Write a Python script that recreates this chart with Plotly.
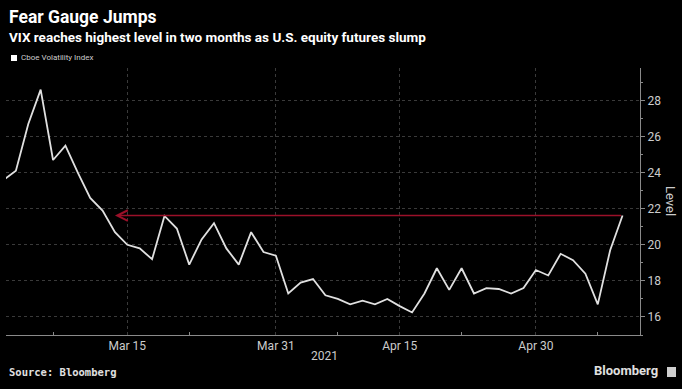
import plotly.graph_objects as go

# ---- data (Cboe Volatility Index, trading days) ----
dates = [
    "Mar 1", "Mar 2", "Mar 3", "Mar 4", "Mar 5", "Mar 8", "Mar 9", "Mar 10", "Mar 11", "Mar 12",
    "Mar 15", "Mar 16", "Mar 17", "Mar 18", "Mar 19", "Mar 22", "Mar 23", "Mar 24", "Mar 25", "Mar 26",
    "Mar 29", "Mar 30", "Mar 31", "Apr 1", "Apr 5", "Apr 6", "Apr 7", "Apr 8", "Apr 9", "Apr 12",
    "Apr 13", "Apr 14", "Apr 15", "Apr 16", "Apr 19", "Apr 20", "Apr 21", "Apr 22", "Apr 23", "Apr 26",
    "Apr 27", "Apr 28", "Apr 29", "Apr 30", "May 3", "May 4", "May 5", "May 6", "May 7", "May 10",
    "May 11",
]
vix = [
    23.6, 24.1, 26.7, 28.6, 24.7, 25.5, 24.0, 22.6, 21.9, 20.7,
    20.0, 19.8, 19.2, 21.6, 20.9, 18.9, 20.3, 21.2, 19.8, 18.9,
    20.7, 19.6, 19.4, 17.3, 17.9, 18.1, 17.2, 17.0, 16.7, 16.9,
    16.7, 17.0, 16.6, 16.25, 17.3, 18.7, 17.5, 18.7, 17.3, 17.6,
    17.55, 17.3, 17.6, 18.6, 18.3, 19.5, 19.15, 18.4, 16.7, 19.7,
    21.62,
]
major_tick_dates = ["Mar 15", "Mar 31", "Apr 15", "Apr 30"]
minor_tick_dates = ["Mar 5", "Mar 22", "Apr 8", "Apr 22", "May 7"]
arrow_target_date = "Mar 12"
y_major_ticks = [16, 18, 20, 22, 24, 26, 28]
y_minor_ticks = [15, 17, 19, 21, 23, 25, 27, 29]
series_name = "Cboe Volatility Index"
title = "Fear Gauge Jumps"
subtitle = "VIX reaches highest level in two months as U.S. equity futures slump"
source = "Source: Bloomberg"
year_label = "2021"

x = list(range(len(dates)))
idx = {d: i for i, d in enumerate(dates)}

W, H = 682, 389
L, R, T, B = 6, 42, 68, 54
PH = H - T - B


def py(px):
    return (H - B - px) / PH


def pxx(px):
    return (px - L) / (W - L - R)


fig = go.Figure()
fig.add_trace(go.Scatter(
    x=x, y=vix, mode="lines", name=series_name,
    line=dict(color="#e0e0e0", width=1.8), showlegend=False,
))

grid = "#3a3a3a"
fig.update_layout(
    width=W, height=H, autosize=False,
    margin=dict(l=L, r=R, t=T, b=B, pad=0),
    paper_bgcolor="#000000", plot_bgcolor="#000000",
    font=dict(family="Roboto, Open Sans, sans-serif", color="#cccccc", size=12),
    xaxis=dict(
        range=[0.2, 51.41], showline=True, linecolor="#8a8a8a", linewidth=1,
        tickvals=[idx[d] for d in major_tick_dates], ticktext=major_tick_dates,
        ticks="", showgrid=True, gridcolor=grid, griddash="dot", gridwidth=1,
        zeroline=False, tickfont=dict(size=12, color="#cccccc"),
        minor=dict(tickvals=[idx[d] for d in minor_tick_dates], ticks="inside",
                   ticklen=3, tickcolor="#8a8a8a", showgrid=False),
        fixedrange=True,
    ),
    yaxis=dict(
        side="right", range=[15, 29.8], showline=True, linecolor="#8a8a8a", linewidth=1,
        tickvals=y_major_ticks, ticks="outside", ticklen=4, tickcolor="#8a8a8a",
        showgrid=True, gridcolor=grid, griddash="dot", gridwidth=1, zeroline=False,
        tickfont=dict(size=12, color="#cccccc"),
        minor=dict(tickvals=y_minor_ticks, ticks="outside", ticklen=2,
                   tickcolor="#8a8a8a", showgrid=False),
        fixedrange=True,
    ),
)

# arrow from latest level back to the last time VIX was there
fig.add_annotation(
    x=idx[arrow_target_date], y=vix[-1], ax=x[-1], ay=vix[-1],
    xref="x", yref="y", axref="x", ayref="y",
    showarrow=True, arrowhead=5, arrowsize=1.3, arrowwidth=1.6,
    arrowcolor="#9b1029", text="",
)

anns = [
    dict(text=f"<b>{title}</b>", x=pxx(7), y=py(17), size=17.5, color="#ffffff",
         family="Roboto, sans-serif"),
    dict(text=f"<b>{subtitle}</b>", x=pxx(7), y=py(37), size=13.5, color="#ffffff",
         family="Roboto, sans-serif"),
    dict(text=series_name, x=pxx(19), y=py(58), size=8, color="#cccccc",
         family="Roboto, sans-serif"),
    dict(text=f"<b>{source}</b>", x=pxx(7), y=py(372), size=10.5, color="#e0e0e0",
         family="DejaVu Sans Mono, monospace"),
    dict(text="<b>Bloomberg</b>", x=pxx(592), y=py(371), size=13, color="#e0e0e0",
         family="Roboto, sans-serif"),
]
for a in anns:
    fig.add_annotation(text=a["text"], x=a["x"], y=a["y"], xref="paper", yref="paper",
                       xanchor="left", yanchor="middle", showarrow=False,
                       font=dict(size=a["size"], color=a["color"], family=a["family"]))

fig.add_annotation(text=year_label, x=idx["Mar 31"] + 3.9, y=py(356), xref="x", yref="paper",
                   xanchor="center", yanchor="middle", showarrow=False,
                   font=dict(size=12, color="#cccccc"))
fig.add_annotation(text="Level", x=pxx(671), y=py(201), xref="paper", yref="paper",
                   textangle=90, xanchor="center", yanchor="middle", showarrow=False,
                   font=dict(size=13, color="#cccccc"))

# legend swatch and logo mark
fig.add_shape(type="rect", xref="paper", yref="paper",
              x0=pxx(11), x1=pxx(17), y0=py(61), y1=py(55),
              fillcolor="#ffffff", line=dict(width=0))
fig.add_shape(type="rect", xref="paper", yref="paper",
              x0=pxx(667), x1=pxx(676), y0=py(377), y1=py(367),
              fillcolor="#cfcfcf", line=dict(width=0))

fig.write_html("out.html", config={"displayModeBar": False},
               post_script="document.body.style.margin='0';")
